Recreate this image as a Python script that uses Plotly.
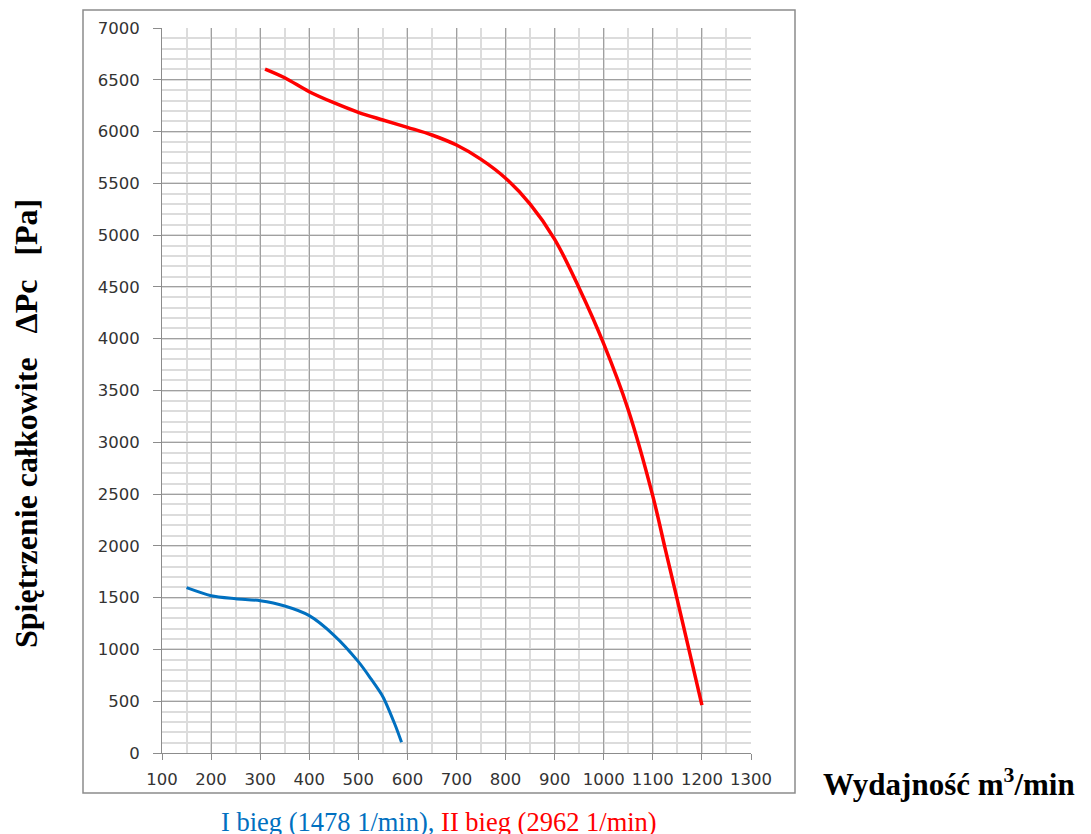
import plotly.graph_objects as go

# Series data
bieg1_x = [150, 200, 250, 300, 350, 400, 450, 500, 525, 550, 575, 588]
bieg1_y = [1596, 1519, 1490, 1470, 1419, 1326, 1139, 882, 721, 544, 270, 103]

bieg2_x = [310, 350, 400, 450, 500, 550, 600, 650, 700, 750, 800, 850, 900, 950, 1000, 1050, 1100, 1125, 1150, 1200]
bieg2_y = [6604, 6520, 6385, 6279, 6186, 6112, 6041, 5967, 5870, 5732, 5550, 5300, 4960, 4487, 3950, 3312, 2480, 1976, 1477, 463]

x_ticks = list(range(100, 1301, 100))
y_ticks = list(range(0, 7001, 500))

BLUE = "#0070C0"
RED = "#FF0000"

# the page adds an 8px body margin, so design in screen pixels and shift by it
OFF = 8
W, H = 1091 - OFF, 834 - OFF
L, R, T, B = 162 - OFF, 751 - OFF, 28 - OFF, 753 - OFF


def px2paper_x(p):
    return (p - OFF - L) / (R - L)


def px2paper_y(p):
    return (B - (p - OFF)) / (B - T)


fig = go.Figure()
fig.add_trace(go.Scatter(x=bieg1_x, y=bieg1_y, mode="lines",
                         line=dict(color=BLUE, width=3, shape="spline", smoothing=0.8),
                         name="I bieg", showlegend=False, hoverinfo="x+y"))
fig.add_trace(go.Scatter(x=bieg2_x, y=bieg2_y, mode="lines",
                         line=dict(color=RED, width=3.5, shape="spline", smoothing=1.0),
                         name="II bieg", showlegend=False, hoverinfo="x+y"))

tickfont = dict(family="DejaVu Sans", size=16.5, color="#333333")

fig.update_layout(
    width=W, height=H,
    margin=dict(l=L, r=W - R, t=T, b=H - B, pad=0),
    paper_bgcolor="white", plot_bgcolor="white",
    xaxis=dict(range=[100, 1300], tickvals=x_ticks, ticktext=[str(v) for v in x_ticks],
               showgrid=True, gridcolor="#a0a0a0", gridwidth=1,
               minor=dict(dtick=50, showgrid=True, gridcolor="#dcdcdc", gridwidth=1.5, ticks=""),
               showline=True, linecolor="#8c8c8c", linewidth=1,
               ticks="outside", ticklen=6, tickcolor="#8c8c8c",
               tickfont=tickfont, ticklabelstandoff=5, zeroline=False, fixedrange=True),
    yaxis=dict(range=[0, 7000], tickvals=y_ticks, ticktext=[str(v) for v in y_ticks],
               showgrid=True, gridcolor="#a0a0a0", gridwidth=1,
               minor=dict(dtick=100, showgrid=True, gridcolor="#dcdcdc", gridwidth=1.5, ticks=""),
               showline=True, linecolor="#8c8c8c", linewidth=1,
               ticks="outside", ticklen=8, tickcolor="#8c8c8c",
               tickfont=tickfont, ticklabelstandoff=10, zeroline=False, fixedrange=True),
    shapes=[dict(type="rect", xref="paper", yref="paper",
                 x0=px2paper_x(83), x1=px2paper_x(795),
                 y0=px2paper_y(793), y1=px2paper_y(10),
                 line=dict(color="#8c8c8c", width=1.5), fillcolor="rgba(0,0,0,0)", layer="below")],
    annotations=[
        dict(text="<b>Spiętrzenie całkowite\u00a0\u00a0\u00a0ΔPc\u00a0\u00a0\u00a0[Pa]</b>",
             xref="paper", yref="paper", x=px2paper_x(26), y=px2paper_y(424),
             xanchor="center", yanchor="middle", textangle=-90, showarrow=False,
             font=dict(family="Liberation Serif", size=32, color="black")),
        dict(text="<b>Wydajność m<sup>3</sup>/min</b>",
             xref="paper", yref="paper", x=px2paper_x(821), y=px2paper_y(782),
             xanchor="left", yanchor="middle", showarrow=False,
             font=dict(family="Liberation Serif", size=31, color="black")),
        dict(text=f"<span style='color:{BLUE}'>I bieg (1478 1/min),</span> <span style='color:{RED}'>II bieg (2962 1/min)</span>",
             xref="paper", yref="paper", x=px2paper_x(219), y=px2paper_y(822),
             xanchor="left", yanchor="middle", showarrow=False,
             font=dict(family="Liberation Serif", size=26.5, color=BLUE)),
    ],
)

fig.write_html("out.html")
